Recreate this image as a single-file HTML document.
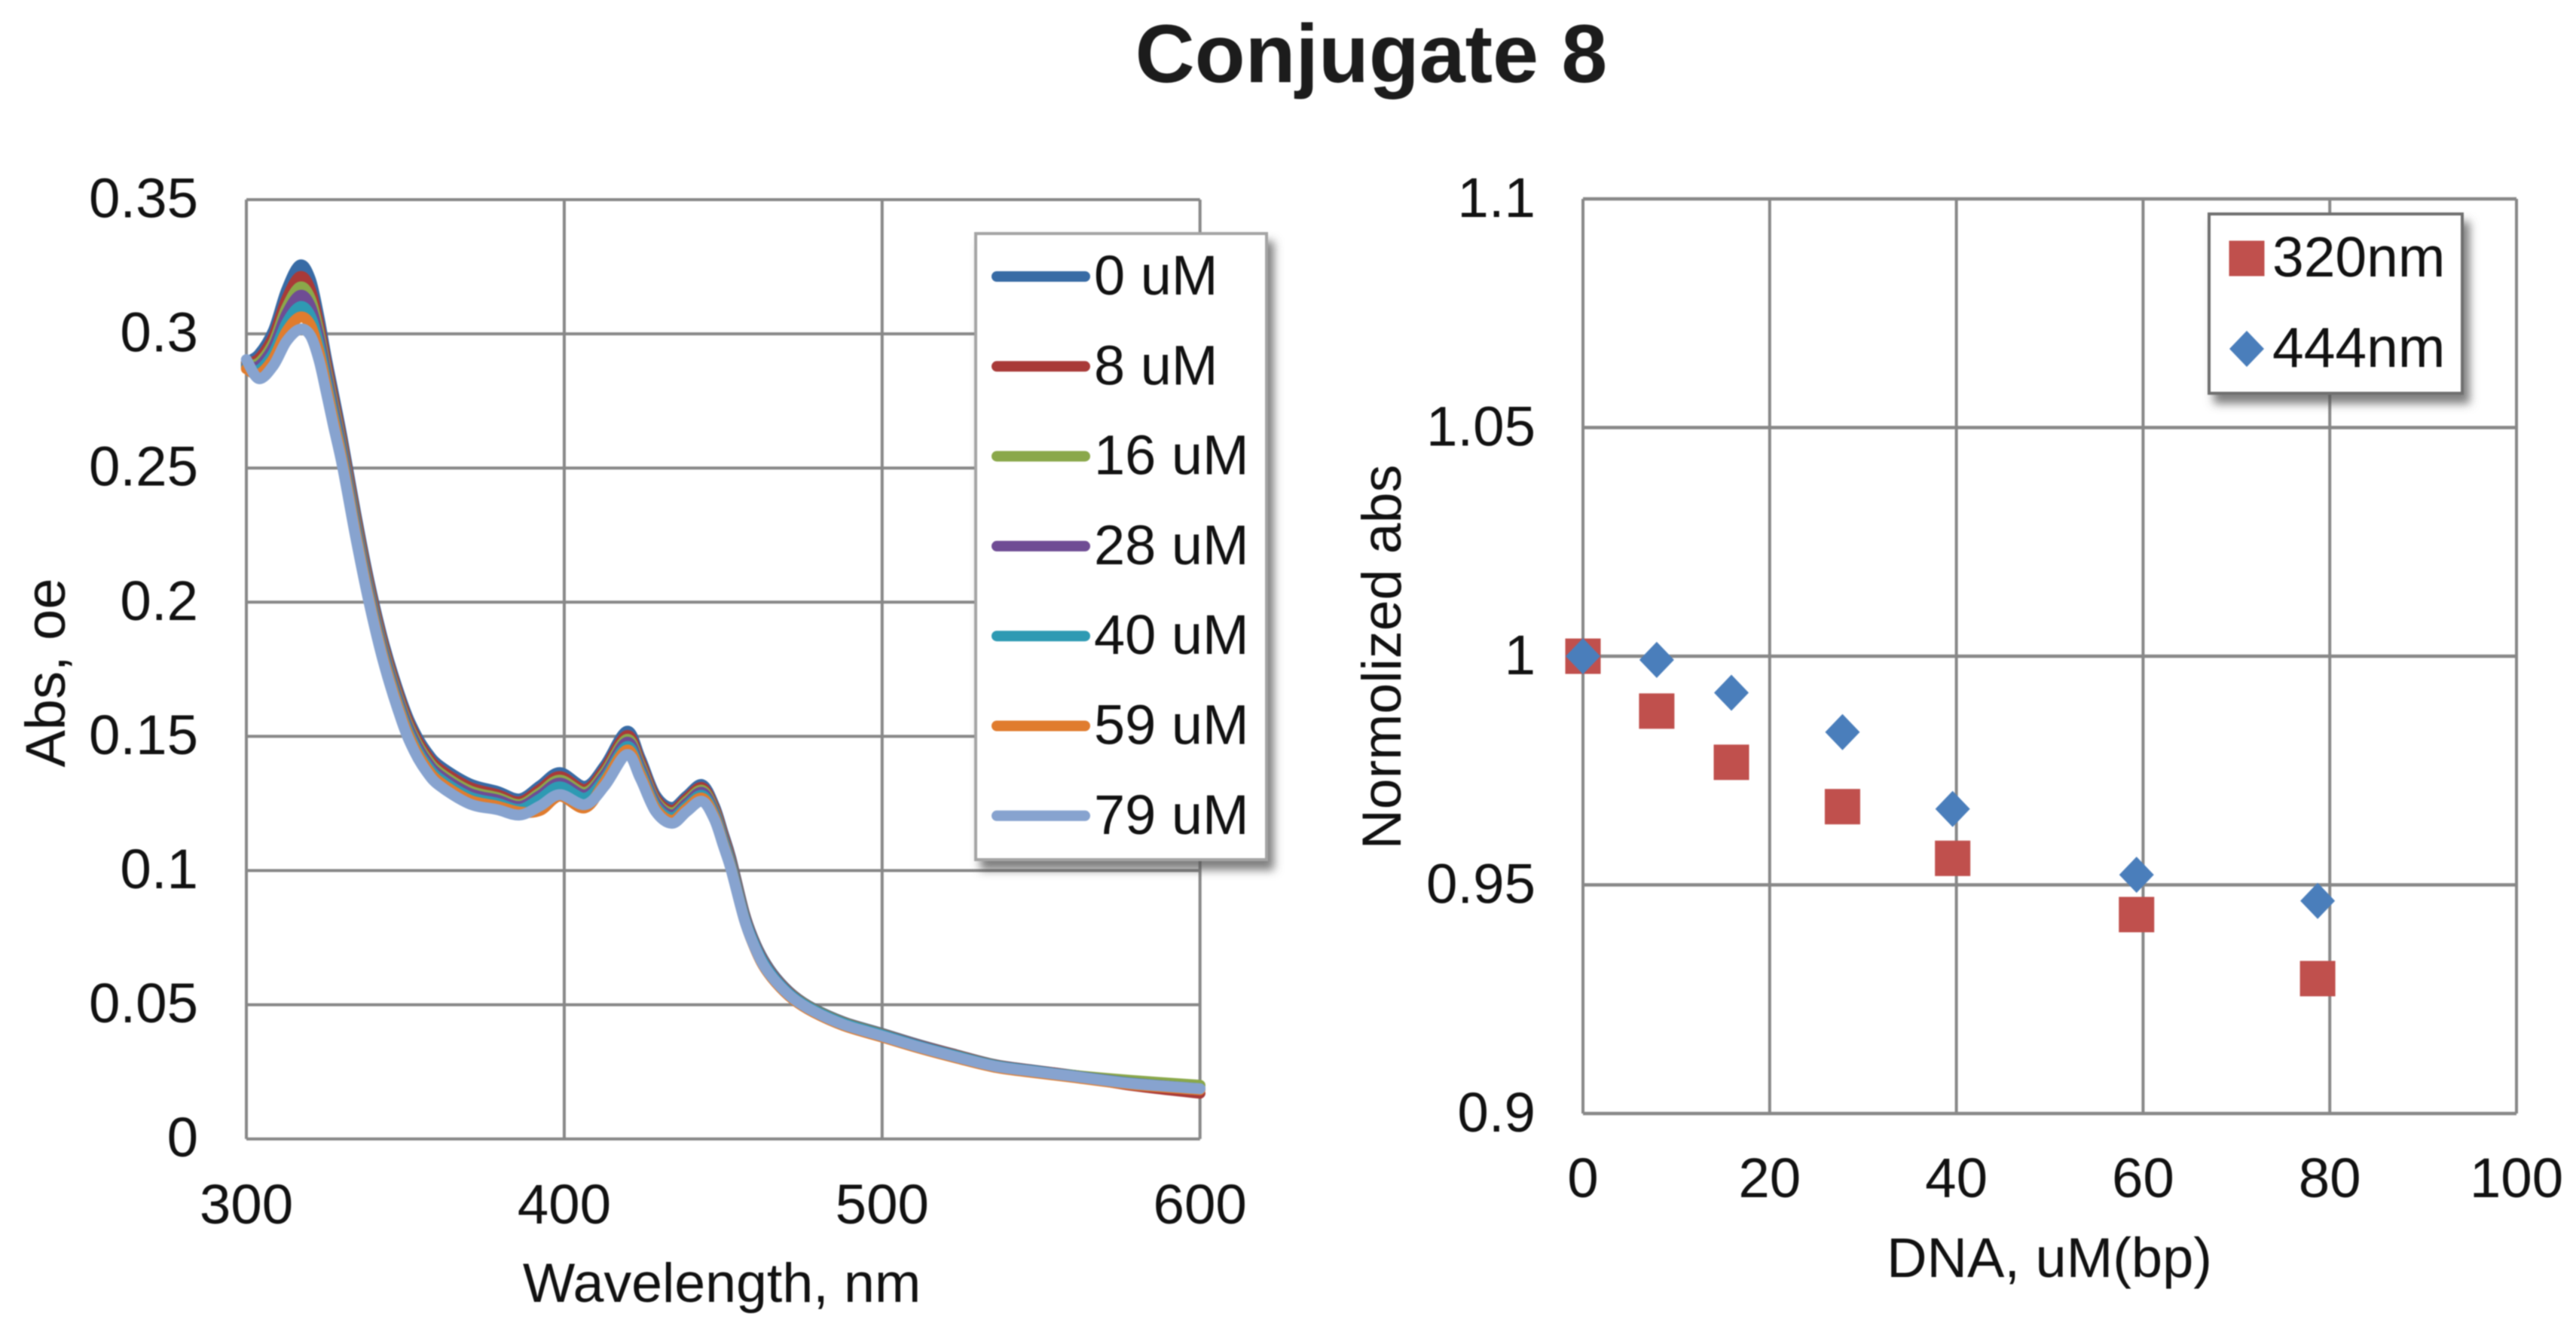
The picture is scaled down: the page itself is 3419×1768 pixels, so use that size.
<!DOCTYPE html>
<html lang="en">
<head>
<meta charset="utf-8">
<title>Conjugate 8</title>
<style>
html,body{margin:0;padding:0;background:#fff;width:3419px;height:1768px;overflow:hidden}
svg{display:block;filter:blur(0.9px)}
text{font-family:"Liberation Sans",Arial,sans-serif;fill:#111}
</style>
</head>
<body>
<svg id="fig" xmlns="http://www.w3.org/2000/svg" width="3419" height="1768" viewBox="0 0 3419 1768">
  <defs>
    <filter id="legendShadow" x="-15%" y="-15%" width="135%" height="135%">
      <feDropShadow dx="8" dy="12" stdDeviation="6" flood-color="#555" flood-opacity="0.75"/>
    </filter>
  </defs>
  <rect width="3419" height="1768" fill="#fff"/>
  <text x="1820" y="109" text-anchor="middle" font-size="109.5" font-weight="bold" style="fill:#1c1c1c">Conjugate 8</text>
  <g id="left"></g>
  <g id="right"></g>
</svg>
<script>
// ---- Absorbance spectra data ----
const wavelengths = [300,303.9,308.5,312.6,316.8,320.1,322.8,325.1,327.5,330.3,334.4,338.6,343.4,349,352.8,356.6,360.7,370.1,378.9,386,392.4,398.6,406.6,412.8,419.7,423.9,428.7,433.9,438.6,443.4,447.2,450,452.4,456.6,459.5,462.6,466.6,472,478.4,487.9,499.8,511.7,523.5,535.4,547.2,559,578,600];
const abs0uM = [.2895,.2923,.3012,.3162,.3256,.3204,.3064,.2914,.2772,.2603,.2332,.2078,.1840,.1628,.1520,.1445,.1392,.1324,.1295,.1267,.1316,.1365,.1314,.1392,.1519,.1420,.1281,.1235,.1279,.1320,.1242,.1139,.1047,.0844,.0746,.0670,.0601,.0536,.0486,.0436,.0394,.0351,.0313,.0277,.0257,.0239,.0210,.0187];
const abs8uM = [.2890,.2907,.2989,.3128,.3213,.3166,.3035,.2891,.2750,.2585,.2316,.2064,.1827,.1615,.1507,.1432,.1379,.1311,.1283,.1256,.1303,.1350,.1302,.1379,.1503,.1407,.1270,.1224,.1269,.1309,.1233,.1131,.1040,.0840,.0742,.0666,.0598,.0534,.0484,.0434,.0392,.0349,.0312,.0276,.0256,.0238,.0200,.0170];
const abs16uM = [.2885,.2892,.2967,.3096,.3174,.3132,.3009,.2869,.2731,.2569,.2301,.2050,.1814,.1602,.1494,.1419,.1366,.1298,.1272,.1246,.1290,.1337,.1291,.1366,.1489,.1394,.1260,.1215,.1259,.1299,.1225,.1123,.1033,.0835,.0739,.0663,.0596,.0532,.0483,.0433,.0391,.0348,.0310,.0275,.0255,.0238,.0218,.0200];
const abs28uM = [.2880,.2880,.2950,.3072,.3143,.3104,.2988,.2852,.2715,.2556,.2289,.2040,.1804,.1592,.1484,.1409,.1356,.1288,.1263,.1239,.1280,.1326,.1282,.1356,.1478,.1384,.1253,.1207,.1251,.1291,.1218,.1118,.1028,.0832,.0737,.0661,.0594,.0530,.0481,.0431,.0389,.0347,.0309,.0274,.0255,.0237,.0209,.0187];
const abs40uM = [.2875,.2865,.2928,.3039,.3101,.3068,.2960,.2830,.2694,.2538,.2274,.2026,.1791,.1579,.1471,.1396,.1343,.1275,.1251,.1228,.1267,.1312,.1270,.1343,.1462,.1371,.1242,.1197,.1241,.1280,.1210,.1110,.1021,.0828,.0733,.0657,.0591,.0528,.0480,.0430,.0388,.0345,.0308,.0273,.0254,.0236,.0208,.0187];
const abs59uM = [.2870,.2850,.2907,.3008,.3062,.3034,.2934,.2809,.2675,.2522,.2259,.2013,.1779,.1567,.1459,.1384,.1331,.1263,.1240,.1218,.1224,.1277,.1234,.1331,.1449,.1359,.1232,.1187,.1232,.1270,.1201,.1100,.1012,.0820,.0724,.0646,.0582,.0520,.0472,.0422,.0380,.0338,.0301,.0267,.0248,.0231,.0203,.0183];
const abs79uM = [.2904,.2833,.2882,.2972,.3017,.2994,.2904,.2784,.2652,.2503,.2242,.1998,.1765,.1553,.1445,.137,.1317,.1249,.1227,.1207,.1241,.1283,.1246,.1317,.1432,.1345,.1221,.1176,.1221,.1258,.1192,.1094,.1007,.0819,.0726,.065,.0586,.0524,.0476,.0426,.0384,.0342,.0305,.0271,.0252,.0235,.0207,.0187];
const seriesLabels = ['0 uM','8 uM','16 uM','28 uM','40 uM','59 uM','79 uM'];
const leftYTicks = [0,0.05,0.1,0.15,0.2,0.25,0.3,0.35];
const leftYLabels = ['0','0.05','0.1','0.15','0.2','0.25','0.3','0.35'];
const leftXTicks = [300,400,500,600];

// ---- Normalized absorbance data ----
const dnaConc = [0,7.9,15.9,27.8,39.6,59.3,78.7];
const norm320 = [1,.988,.9768,.9671,.9558,.9435,.9295];
const norm444 = [1,.9992,.992,.9834,.9666,.9522,.9465];
const rightYTicks = [0.9,0.95,1,1.05,1.1];
const rightYLabels = ['0.9','0.95','1','1.05','1.1'];
const rightXTicks = [0,20,40,60,80,100];

const allSeries = [abs0uM,abs8uM,abs16uM,abs28uM,abs40uM,abs59uM,abs79uM];
const seriesColors = ['#386ba5','#a93a38','#8aa84a','#6f4c94','#2e9ab3','#e07c2e','#87a3cf'];
const seriesNames = ['series-0-um','series-8-um','series-16-um','series-28-um','series-40-um','series-59-um','series-79-um'];

const NS = 'http://www.w3.org/2000/svg';
const GRID = '#888888';
function mk(parent, tag, attrs, txt){
  const el = document.createElementNS(NS, tag);
  for(const k in attrs) el.setAttribute(k, attrs[k]);
  if(txt !== undefined) el.textContent = txt;
  parent.appendChild(el);
  return el;
}
// axis functions
const lx = v => 327 + (v - 300) * (1592.7 - 327) / 300;
const ly = v => 1511.7 - v * (1511.7 - 265) / 0.35;
const rx = v => 2101 + v * (3340 - 2101) / 100;
const ry = v => 1478 - (v - 0.9) * (1478 - 264) / 0.2;

function smoothPath(xs, ys){
  let d = 'M' + xs[0].toFixed(1) + ' ' + ys[0].toFixed(1);
  for(let i = 0; i < xs.length - 1; i++){
    const p0 = Math.max(i - 1, 0), p3 = Math.min(i + 2, xs.length - 1);
    const c1x = xs[i] + (xs[i+1] - xs[p0]) / 6, c1y = ys[i] + (ys[i+1] - ys[p0]) / 6;
    const c2x = xs[i+1] - (xs[p3] - xs[i]) / 6, c2y = ys[i+1] - (ys[p3] - ys[i]) / 6;
    d += 'C' + c1x.toFixed(1) + ' ' + c1y.toFixed(1) + ' ' + c2x.toFixed(1) + ' ' + c2y.toFixed(1) + ' ' + xs[i+1].toFixed(1) + ' ' + ys[i+1].toFixed(1);
  }
  return d;
}

// ---- Left chart ----
const L = document.getElementById('left');
leftYTicks.forEach((t, i) => {
  const g = mk(L, 'line', {x1: lx(300), x2: lx(600), y1: ly(t), y2: ly(t), stroke: GRID, 'stroke-width': 4});
  
  
  const s = mk(L, 'text', {x: 263, y: ly(t) + 23.5, 'text-anchor': 'end', 'font-size': 74.5}, leftYLabels[i]);
  
  
});
leftXTicks.forEach(t => {
  const g = mk(L, 'line', {x1: lx(t), x2: lx(t), y1: ly(0.35), y2: ly(0), stroke: GRID, 'stroke-width': 4});
  
  
  const s = mk(L, 'text', {x: lx(t), y: 1624, 'text-anchor': 'middle', 'font-size': 74.5}, String(t));
  
  
});
const lxTitle = mk(L, 'text', {x: 958, y: 1728, 'text-anchor': 'middle', 'font-size': 73.5}, 'Wavelength, nm');


const lyTitle = mk(L, 'text', {x: 0, y: 0, transform: 'translate(86 893) rotate(-90)', 'text-anchor': 'middle', 'font-size': 74}, 'Abs, oe');



allSeries.forEach((vals, i) => {
  const p = mk(L, 'path', {
    d: smoothPath(wavelengths.map(lx), vals.map(ly)),
    fill: 'none', stroke: seriesColors[i], 'stroke-width': 14.5,
    'stroke-linejoin': 'round', 'stroke-linecap': 'round'
  });
  
  
});

const legL = mk(L, 'g', {});


const legLBox = mk(legL, 'rect', {x: 1295, y: 310, width: 386, height: 831, fill: '#fff', stroke: '#a4a4a4', 'stroke-width': 4, filter: 'url(#legendShadow)'});


seriesLabels.forEach((lab, i) => {
  const rowY = 367 + i * 119.3;
  const ln = mk(legL, 'line', {x1: 1323, x2: 1440, y1: rowY, y2: rowY, stroke: seriesColors[i], 'stroke-width': 14, 'stroke-linecap': 'round'});
  
  
  const tx = mk(legL, 'text', {x: 1452, y: rowY + 24, 'font-size': 74}, lab);
  
  
});

// ---- Right chart ----
const R = document.getElementById('right');
rightYTicks.forEach((t, i) => {
  const g = mk(R, 'line', {x1: rx(0), x2: rx(100), y1: ry(t), y2: ry(t), stroke: GRID, 'stroke-width': 4.5});
  
  
  const s = mk(R, 'text', {x: 2038, y: ry(t) + 24, 'text-anchor': 'end', 'font-size': 74.5}, rightYLabels[i]);
  
  
});
rightXTicks.forEach(t => {
  const g = mk(R, 'line', {x1: rx(t), x2: rx(t), y1: ry(1.1), y2: ry(0.9), stroke: GRID, 'stroke-width': 4});
  
  
  const s = mk(R, 'text', {x: rx(t), y: 1589, 'text-anchor': 'middle', 'font-size': 74.5}, String(t));
  
  
});
const rxTitle = mk(R, 'text', {x: 2720, y: 1695, 'text-anchor': 'middle', 'font-size': 74}, 'DNA, uM(bp)');


const ryTitle = mk(R, 'text', {x: 0, y: 0, transform: 'translate(1859 872) rotate(-90)', 'text-anchor': 'middle', 'font-size': 73.5}, 'Normolized abs');



function square(parent, cx, cy){
  return mk(parent, 'rect', {x: cx - 23.5, y: cy - 23.5, width: 47, height: 47, fill: '#c0504d'});
}
function diamond(parent, cx, cy){
  return mk(parent, 'polygon', {points: (cx) + ',' + (cy - 24) + ' ' + (cx + 23) + ',' + cy + ' ' + cx + ',' + (cy + 24) + ' ' + (cx - 23) + ',' + cy, fill: '#4a7ebb'});
}
dnaConc.forEach((c, i) => {
  const m = square(R, rx(c), ry(norm320[i]));
  
  
});
dnaConc.forEach((c, i) => {
  const m = diamond(R, rx(c), ry(norm444[i]));
  
  
});

const legR = mk(R, 'g', {});


const legRBox = mk(legR, 'rect', {x: 2932, y: 284, width: 336, height: 238, fill: '#fff', stroke: '#707070', 'stroke-width': 4, filter: 'url(#legendShadow)'});


const k1 = square(legR, 2982, 343);


const k2 = diamond(legR, 2982, 463);


const t1 = mk(legR, 'text', {x: 3016, y: 367, 'font-size': 75}, '320nm');


const t2 = mk(legR, 'text', {x: 3016, y: 487, 'font-size': 75}, '444nm');


</script>
</body>
</html>
